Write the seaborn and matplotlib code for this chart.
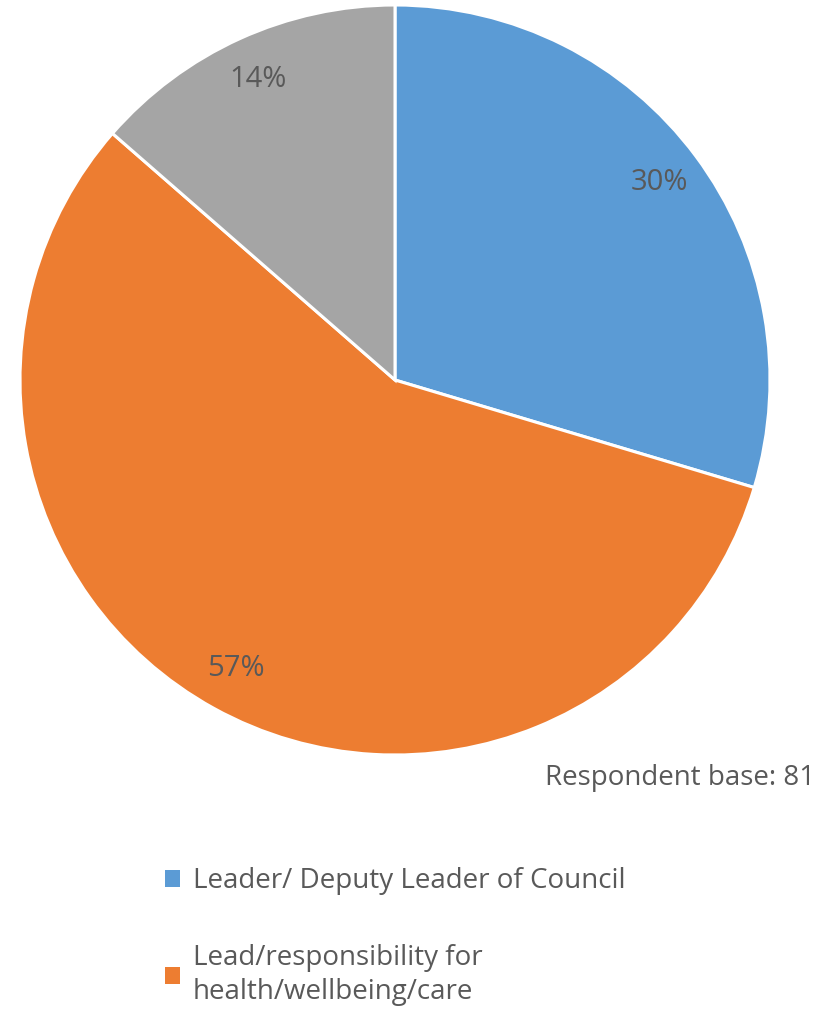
import matplotlib
matplotlib.use("Agg")
import matplotlib.pyplot as plt
import seaborn as sns
from matplotlib.patches import Patch

sns.set_theme(style="white")
plt.rcParams['font.family'] = ['Open Sans', 'DejaVu Sans']

# Respondent counts by role (base: 81)
roles = ["Leader/ Deputy Leader of Council",
         "Lead/responsibility for\nhealth/wellbeing/care",
         "Other"]
counts = [24, 46, 11]
colors = sns.color_palette(["#5B9BD5", "#ED7D31", "#A5A5A5"])
text_color = "#595959"

fig = plt.figure(figsize=(8.31, 10.10), dpi=100)
W, H = 831, 1010
cx, cy, r = 395, 380, 375
ax = fig.add_axes([(cx - r) / W, (H - cy - r) / H, 2 * r / W, 2 * r / H])

wedges, texts, autotexts = ax.pie(
    counts, colors=colors, startangle=90, counterclock=False,
    autopct=lambda p: f"{p:.0f}%", pctdistance=0.88,
    wedgeprops=dict(edgecolor="white", linewidth=2.2),
    textprops=dict(color=text_color, fontsize=21),
)
ax.set_xlim(-1, 1)
ax.set_ylim(-1, 1)
ax.set_aspect("equal")

fig.text(815 / W, 1 - 778 / H, "Respondent base: 81", ha="right", va="center",
         color=text_color, fontsize=20)

handles = [Patch(facecolor=colors[i], edgecolor="none") for i in range(2)]
leg = fig.legend(handles, roles[:2], loc="upper left",
                 bbox_to_anchor=(140 / W, 1 - 842 / H), frameon=False,
                 fontsize=20, labelcolor=text_color, labelspacing=1.75,
                 handlelength=0.55, handleheight=0.55, handletextpad=0.45)
for t in leg.get_texts():
    t.set_linespacing(1.3)

fig.savefig("out.png", dpi=100)
